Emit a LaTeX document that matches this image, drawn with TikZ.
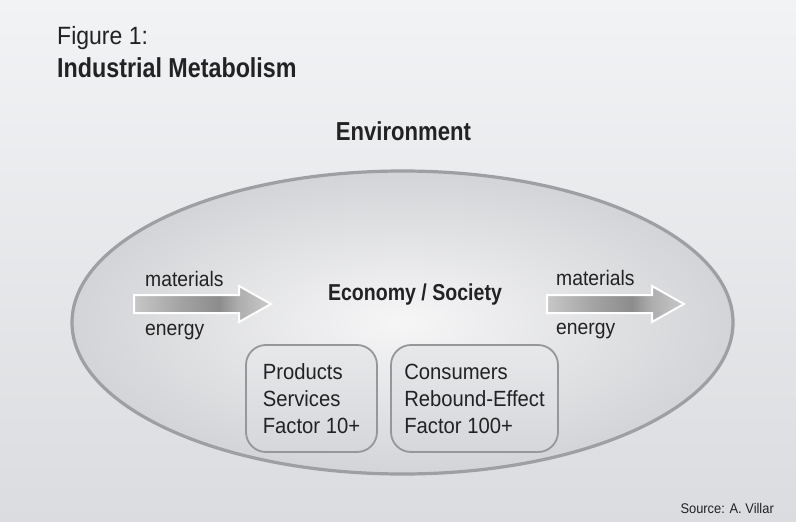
\documentclass[tikz,border=0pt]{standalone}
\usepackage{fontspec}
\setmainfont{Liberation Sans}[FakeStretch=0.92]
\newfontfamily\boldcond{Liberation Sans}[FakeStretch=0.85]
\usetikzlibrary{shapes.geometric}

\definecolor{bgtop}{RGB}{242,243,245}
\definecolor{bgbottom}{RGB}{219,220,223}
\definecolor{envinner}{RGB}{246,246,247}
\definecolor{envouter}{RGB}{211,212,215}
\definecolor{envline}{RGB}{158,159,162}
\definecolor{boxtop}{RGB}{231,232,234}
\definecolor{boxbottom}{RGB}{214,215,218}
\definecolor{boxline}{RGB}{150,151,154}
\definecolor{inkgray}{RGB}{34,34,36}
\pgfdeclarehorizontalshading{flowshade}{100bp}{color(0bp)=(black!22); color(25bp)=(black!22);
    color(42bp)=(black!36); color(56bp)=(black!45); color(63bp)=(black!32); color(75bp)=(black!21); color(100bp)=(black!21)}

\begin{document}
\begin{tikzpicture}[x=1pt, y=-1pt,
        label/.style={inner sep=0pt, text=inkgray, font=\fontsize{21}{27}\selectfont},
        heading/.style={inner sep=0pt, text=inkgray, font=\boldcond\bfseries\fontsize{#1}{#1}\selectfont},
        factorbox/.style={draw=boxline, line width=1.8pt, rounded corners=20pt,
            top color=boxtop, bottom color=boxbottom, align=left, text=inkgray,
            font=\fontsize{22}{27}\selectfont, minimum height=107pt, inner sep=0pt},
        flowarrow/.style={draw=white, line width=2pt, line join=miter, shading=flowshade}]
        \useasboundingbox (0,0) rectangle (796,522);
        \fill[top color=bgtop, bottom color=bgbottom] (0,0) rectangle (796,522);

        % titles
        \node[label, anchor=base west, font=\fontsize{25}{25}\selectfont] (fig) at (57,44) {Figure 1:};
        \node[heading=27.4, anchor=base west] (title) at (57,77.5) {Industrial Metabolism};
        \node[heading=26, anchor=base] (envlabel) at (403.5,140) {Environment};

        % economy
        \node[ellipse, draw=envline, line width=3.2pt, inner color=envinner, outer color=envouter,
            minimum width=661pt, minimum height=303pt] (env) at (402.5,322.5) {};
        \node[heading=23, anchor=base] (economy) at (415,300) {Economy / Society};

        % in and out flows
        \foreach \x in {134,547}
            \draw[flowarrow] (\x,295) -- ++(105,0) -- ++(0,-9) -- ++(32,18)
                -- ++(-32,18) -- ++(0,-9) -- ++(-105,0) -- cycle;
        \node[label, anchor=base west] (matin) at (145,286.5) {materials};
        \node[label, anchor=base west] (enin) at (145,335) {energy};
        \node[label, anchor=base west] (matout) at (556,285) {materials};
        \node[label, anchor=base west] (enout) at (556,334) {energy};

        \node[factorbox, minimum width=131pt] (products) at (311.5,398.5)
            {Products\\Services\\Factor 10+};
        \node[factorbox, minimum width=167pt] (consumers) at (474.5,398.5)
            {Consumers\\Rebound-Effect\\Factor 100+};

        \node[label, anchor=base east, font=\fontsize{14}{14}\selectfont] (source) at (774,513) {Source: A. Villar};
    \end{tikzpicture}
\end{document}
